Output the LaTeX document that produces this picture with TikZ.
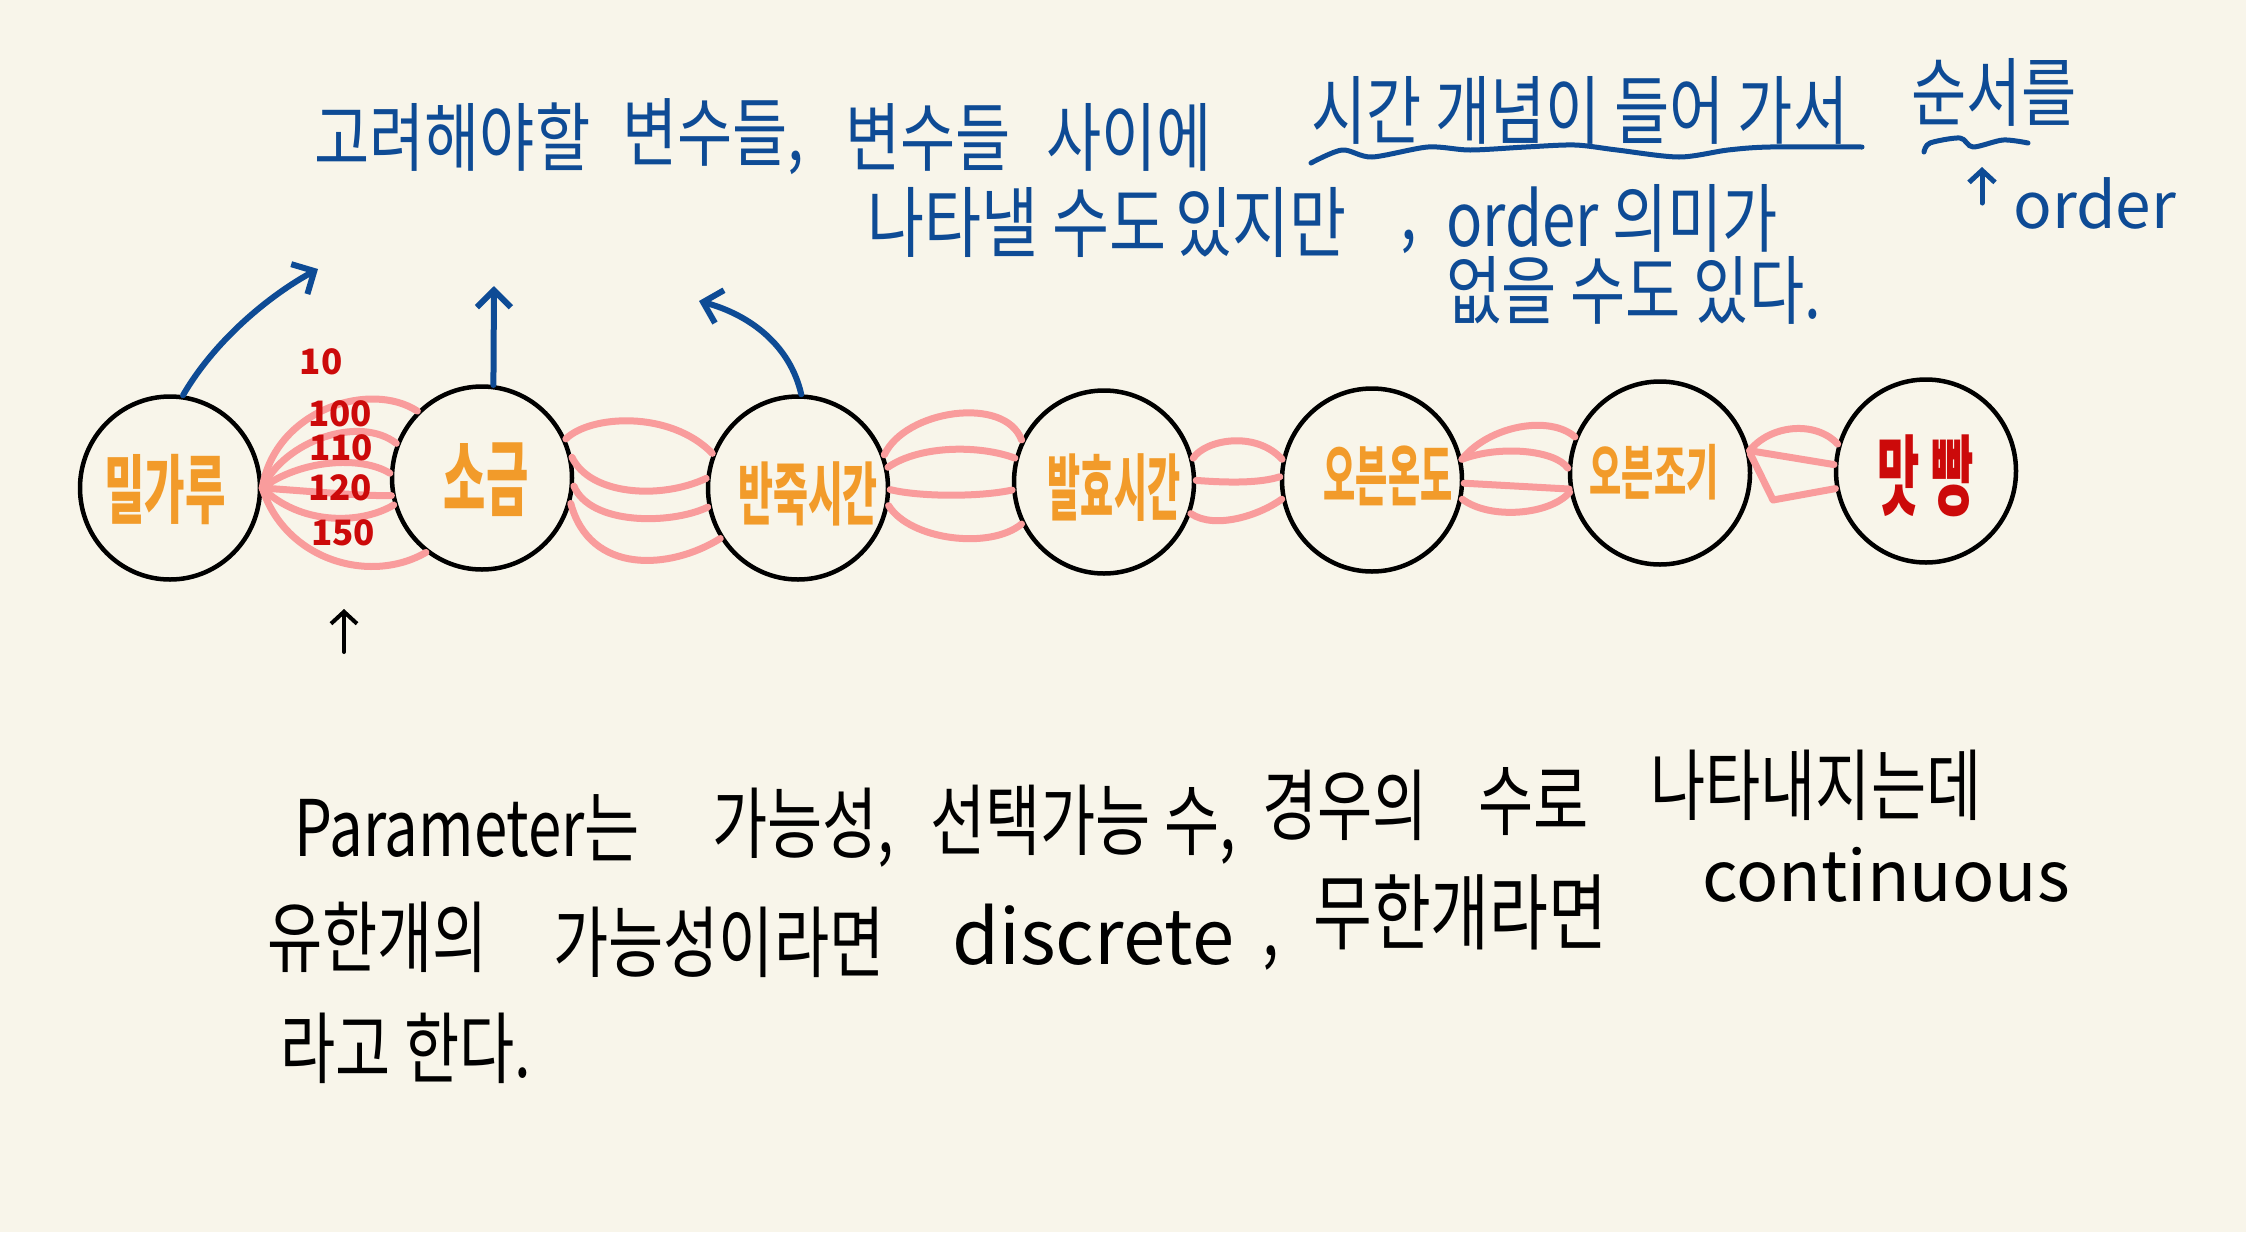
\documentclass[tikz,border=0pt]{standalone}
\usepackage{fontspec}
\setmainfont{Noto Sans CJK KR}
\usetikzlibrary{shapes.geometric,arrows.meta}
\definecolor{bg}{HTML}{F8F5EA}
\definecolor{ink}{HTML}{0E4B95}
\definecolor{ora}{HTML}{F29B2A}
\definecolor{rd}{HTML}{CC0A0A}
\definecolor{pk}{HTML}{F99C9C}
\newcommand\hwtext[2][1.25]{\scalebox{1}[#1]{#2}}
\begin{document}
\begin{tikzpicture}[x=1pt,y=-1pt,
 var/.style={ellipse, draw=black, line width=4.5pt, minimum width=180pt, minimum height=183pt, inner sep=0pt},
 lbl/.style={inner sep=0pt, text=ora, font=\fontsize{#1}{#1}\selectfont\bfseries},
 link/.style={draw=pk, line width=7pt, line cap=round, line join=round},
 note/.style={text=ink, font=\fontsize{60}{60}\selectfont, inner sep=0pt, anchor=west},
 body/.style={text=black, font=\fontsize{60}{60}\selectfont, inner sep=0pt, anchor=west},
 num/.style={text=rd, font=\fontsize{35}{35}\selectfont\bfseries, inner sep=0pt},
 bluearrow/.style={draw=ink, line width=6pt, line cap=round, -{Straight Barb[length=17pt,width=34pt]}},
 blackarrow/.style={draw=black, line width=4pt, line cap=round, -{Straight Barb[length=12pt,width=26pt]}},
 wave/.style={draw=ink, line width=5pt, line cap=round, line join=round},
]
\fill[bg] (0,0) rectangle (2246,1232);
\useasboundingbox (0,0) rectangle (2246,1232);

% variables
\node[var] (flour) at (170,488) {};
\node[var] (salt) at (482,478) {};
\node[var] (knead) at (798,488) {};
\node[var] (ferm) at (1104,482) {};
\node[var] (temp) at (1372,480) {};
\node[var] (cond) at (1660,473) {};
\node[var] (taste) at (1926,471) {};
\node[lbl=44] (flourlab) at (165,490) {\hwtext[1.7]{밀가루}};
\node[lbl=46] (saltlab) at (486,480) {\hwtext[1.8]{소금}};
\node[lbl=38] (kneadlab) at (808,494) {\hwtext[1.8]{반죽시간}};
\node[lbl=36] (fermlab) at (1114,488) {\hwtext[2]{발효시간}};
\node[lbl=35] (templab) at (1388,476) {\hwtext[1.9]{오븐온도}};
\node[lbl=35] (condlab) at (1654,472) {\hwtext[1.7]{오븐조기}};
\node[lbl=46, text=rd] (tastelab) at (1926,476) {\hwtext[1.9]{맛\hspace{12pt}빵}};

% flour -> salt fan
\draw[link] (flour.east) .. controls (275,410) and (370,380) .. (salt.134);
\draw[link] (flour.east) .. controls (285,440) and (360,415) .. (salt.158);
\draw[link] (flour.east) .. controls (300,460) and (360,455) .. (salt.177);
\draw[link] (flour.east) .. controls (320,492) and (360,496) .. (salt.191);
\draw[link] (flour.east) .. controls (300,525) and (360,525) .. (salt.197);
\draw[link] (flour.east) .. controls (285,560) and (370,585) .. (salt.233);

% salt -> knead
\draw[link] (salt.25) .. controls (590,415) and (670,410) .. (knead.158);
\draw[link] (salt.13) .. controls (590,495) and (660,500) .. (knead.174);
\draw[link] (salt.-5) .. controls (590,525) and (670,525) .. (knead.192);
\draw[link] (salt.-16) .. controls (590,575) and (670,570) .. (knead.213);

% knead -> ferm
\draw[link] (knead.21) .. controls (905,410) and (1005,395) .. (ferm.153);
\draw[link] (knead.13) .. controls (920,445) and (980,445) .. (ferm.165);
\draw[link] (knead.-1) .. controls (920,497) and (980,497) .. (ferm.185);
\draw[link] (knead.-11) .. controls (910,540) and (990,550) .. (ferm.207);

% ferm -> temp
\draw[link] (ferm.15) .. controls (1205,440) and (1255,430) .. (temp.167);
\draw[link] (ferm.1) .. controls (1230,483) and (1260,483) .. (temp.178);
\draw[link] (ferm.-20) .. controls (1215,530) and (1260,515) .. (temp.192);

% temp -> cond
\draw[link] (temp.13) .. controls (1490,425) and (1550,415) .. (cond.157);
\draw[link] (temp.13) .. controls (1500,445) and (1555,450) .. (cond.177);
\draw[link] (temp.-2) -- (cond.190);
\draw[link] (temp.-12) .. controls (1490,520) and (1550,515) .. (cond.192);

% cond -> taste
\draw[link] (cond.14) .. controls (1770,425) and (1815,420) .. (taste.163);
\draw[link] (cond.14) -- (taste.176);
\coordinate (kink) at (1773,500);
\draw[link] (cond.12) -- (kink) -- (taste.191);

% red numbers
\node[num] (n10) at (321,362) {10};
\node[num] (n100) at (340,414) {100};
\node[num] (n110) at (341,448) {110};
\node[num] (n120) at (340,488) {120};
\node[num] (n150) at (343,533) {150};

% blue arrows
\coordinate (a1) at (318,269);
\coordinate (a2) at (494,286);
\coordinate (a3) at (699,301);
\draw[bluearrow] (flour.82) .. controls (215,340) and (270,295) .. (a1);
\draw[bluearrow] (salt.83) -- (a2);
\draw[bluearrow] (knead.88) .. controls (790,345) and (750,315) .. (a3);

% black arrow
\coordinate (b0) at (344,652);
\coordinate (b1) at (344,609);
\draw[blackarrow] (b0) -- (b1);

% top notes
\node[note] (t1) at (314,137) {\hwtext{고려해야할}};
\node[note] (t2) at (622,137) {\hwtext{변수들,}};
\node[note] (t3) at (845,137) {\hwtext{변수들}};
\node[note] (t4) at (1046,137) {\hwtext{사이에}};
\node[note] (t5) at (1311,110) {\hwtext{시간 개념이 들어 가서}};
\node[note] (t6) at (1911,92) {\hwtext{순서를}};
\node[note, font=\fontsize{64}{64}\selectfont] (t7) at (2013,203) {order};
\node[note, font=\fontsize{62}{62}\selectfont] (t8) at (867,222) {\hwtext{나타낼 수도}};
\node[note, font=\fontsize{62}{62}\selectfont] (t9) at (1175,222) {\hwtext{있지만}};
\node[note] (t10) at (1400,242) {\hwtext{,}};
\node[note] (t11) at (1446,218) {\hwtext{order 의미가}};
\node[note] (t12) at (1446,290) {\hwtext{없을 수도 있다.}};

% wavy underlines
\draw[wave] plot[smooth] coordinates {(1311,163) (1342,150) (1372,157) (1428,147) (1470,150) (1526,147) (1575,145) (1617,150) (1679,157) (1728,150) (1770,147) (1862,147)};
\draw[wave] plot[smooth] coordinates {(1924,152) (1930,143) (1960,138) (1973,147) (2003,140) (2028,143)};
\coordinate (o0) at (1982,203);
\coordinate (o1) at (1982,167);
\draw[bluearrow, line width=5pt, -{Straight Barb[length=12pt,width=26pt]}] (o0) -- (o1);

% bottom text
\node[body] (p1) at (294,828) {\hwtext[1.3]{Parameter는}};
\node[body] (p2) at (712,828) {\hwtext[1.3]{가능성,}};
\node[body] (p3) at (930,825) {\hwtext[1.3]{선택가능 수,}};
\node[body] (p4) at (1262,805) {\hwtext[1.3]{경우의}};
\node[body] (p5) at (1478,802) {\hwtext[1.3]{수로}};
\node[body] (p6) at (1650,785) {\hwtext[1.3]{나타내지는데}};
\node[body] (q1) at (267,937) {\hwtext[1.3]{유한개의}};
\node[body] (q2) at (553,942) {\hwtext[1.3]{가능성이라면}};
\node[body, font=\fontsize{76}{76}\selectfont] (q3) at (952,935) {discrete};
\node[body] (q3c) at (1262,958) {\hwtext[1.3]{,}};
\node[body, font=\fontsize{64}{64}\selectfont] (q4) at (1313,912) {\hwtext[1.3]{무한개라면}};
\node[body, font=\fontsize{70}{70}\selectfont] (q5) at (1702,875) {continuous};
\node[body] (r1) at (280,1048) {\hwtext[1.3]{라고 한다.}};
\end{tikzpicture}
\end{document}
